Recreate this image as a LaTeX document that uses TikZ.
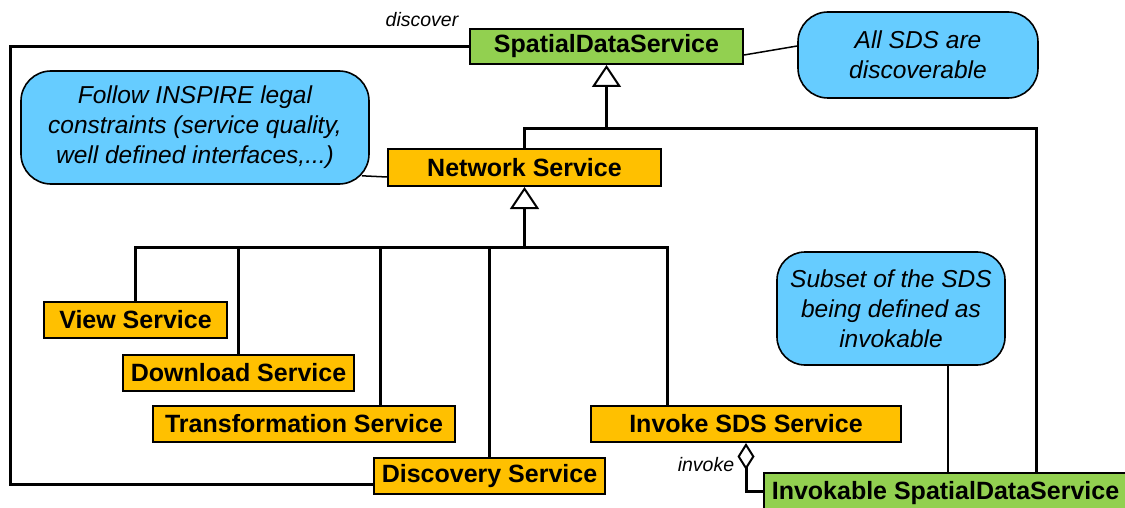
\documentclass[tikz,border=0pt]{standalone}
\usepackage{fontspec}
\setmainfont{Liberation Sans}
\usetikzlibrary{arrows.meta,calc}

\definecolor{svcorange}{RGB}{255,192,0}
\definecolor{sdsgreen}{RGB}{146,208,80}
\definecolor{noteblue}{RGB}{102,204,255}

\tikzset{
  box/.style={draw=black, line width=2pt, inner sep=0pt,
    font=\fontsize{25}{30}\selectfont\bfseries},
  orangebox/.style={box, fill=svcorange},
  greenbox/.style={box, fill=sdsgreen},
  note/.style={draw=black, line width=1.6pt, fill=noteblue, rounded corners=30pt,
    align=center, inner sep=0pt, font=\fontsize{24.5}{30}\selectfont\itshape},
  link/.style={line width=3pt},
  thinlink/.style={line width=1.5pt},
  gen/.style={link, -{Triangle[open, width=29pt, length=22pt, line width=2pt]}},
  agg/.style={link, -{Diamond[open, width=17pt, length=27pt, line width=2pt]}},
  role/.style={inner sep=0pt, font=\fontsize{19.5}{22}\selectfont\itshape}
}

\begin{document}
\begin{tikzpicture}[x=1pt, y=-1pt]
  \clip (0,0) rectangle (1125,508);
  \fill[white] (0,0) rectangle (1125,508);

  % classes
  \node[greenbox, minimum width=273pt, minimum height=35pt] (sds) at (606.5,46.5) {SpatialDataService};
  \node[orangebox, minimum width=273pt, minimum height=37pt] (ns) at (524.5,167.5) {Network Service};
  \node[orangebox, minimum width=183pt, minimum height=36pt] (view) at (135.5,320) {View Service};
  \node[orangebox, minimum width=231pt, minimum height=36pt] (download) at (238.5,373) {Download Service};
  \node[orangebox, minimum width=302pt, minimum height=36pt] (transform) at (304,424) {Transformation Service};
  \node[orangebox, minimum width=231pt, minimum height=36pt] (discovery) at (489.5,476) {Discovery Service};
  \node[orangebox, minimum width=310pt, minimum height=36pt] (invoke) at (746,424) {Invoke SDS Service};
  % this class runs past the right and bottom edges of the sheet
  \node[greenbox, minimum width=372pt, text height=26pt, text depth=13pt] (isds) at (950,492.5)
    {\hspace*{-9pt}Invokable SpatialDataService};

  % notes
  \node[note, minimum width=348pt, minimum height=113pt] (note1) at (195,127.5)
    {Follow INSPIRE legal\\constraints (service quality,\\well defined interfaces,...)};
  \node[note, minimum width=240pt, minimum height=86pt] (note2) at (918,55)
    {All SDS are\\discoverable};
  \node[note, minimum width=228pt, minimum height=113pt, rounded corners=28pt] (note3) at (891,308.5)
    {Subset of the SDS\\being defined as\\invokable};

  % junction points of the connectors
  \path (sds.south) ++(0,64) coordinate (j1);
  \path (ns.south) ++(0,60) coordinate (bus);
  \coordinate (xT) at (380,0);
  \coordinate (xI) at (667,0);
  \coordinate (xR) at (1036,0);
  \coordinate (xN) at (948,0);
  \coordinate (yA) at (0,491);
  \coordinate (rail) at (10.5,484);

  % generalisation towards SpatialDataService
  \draw[link] (ns.north) |- (j1);
  \draw[link] (isds.north -| xR) |- (j1);
  \draw[gen] (j1) -- (sds.south);

  % generalisation towards Network Service
  \draw[link] (view.north) |- (bus);
  \draw[link] (download.north) |- (bus);
  \draw[link] (transform.north -| xT) |- (bus);
  \draw[link] (discovery.north) |- (bus);
  \draw[link] (invoke.north -| xI) |- (bus);
  \draw[gen] (bus) -- (ns.south);

  % discover association
  \draw[link] (sds.west) -| (rail) -- (rail -| discovery.west);
  \node[role] (discoverlbl) at (422,20) {discover};

  % invoke aggregation
  \draw[agg] (isds.west |- yA) -| (invoke.south);
  \node[role] (invokelbl) at (706,465) {invoke};

  % note anchors
  \draw[thinlink] (sds.east |- note2.west) -- ($(note2.west)+(0,-9)$);
  \draw[thinlink] ($(note1.south east)+(-8,-9)$) -- ($(ns.west)+(0,9.5)$);
  \draw[thinlink] (note3.south -| xN) -- (isds.north -| xN);
\end{tikzpicture}
\end{document}
